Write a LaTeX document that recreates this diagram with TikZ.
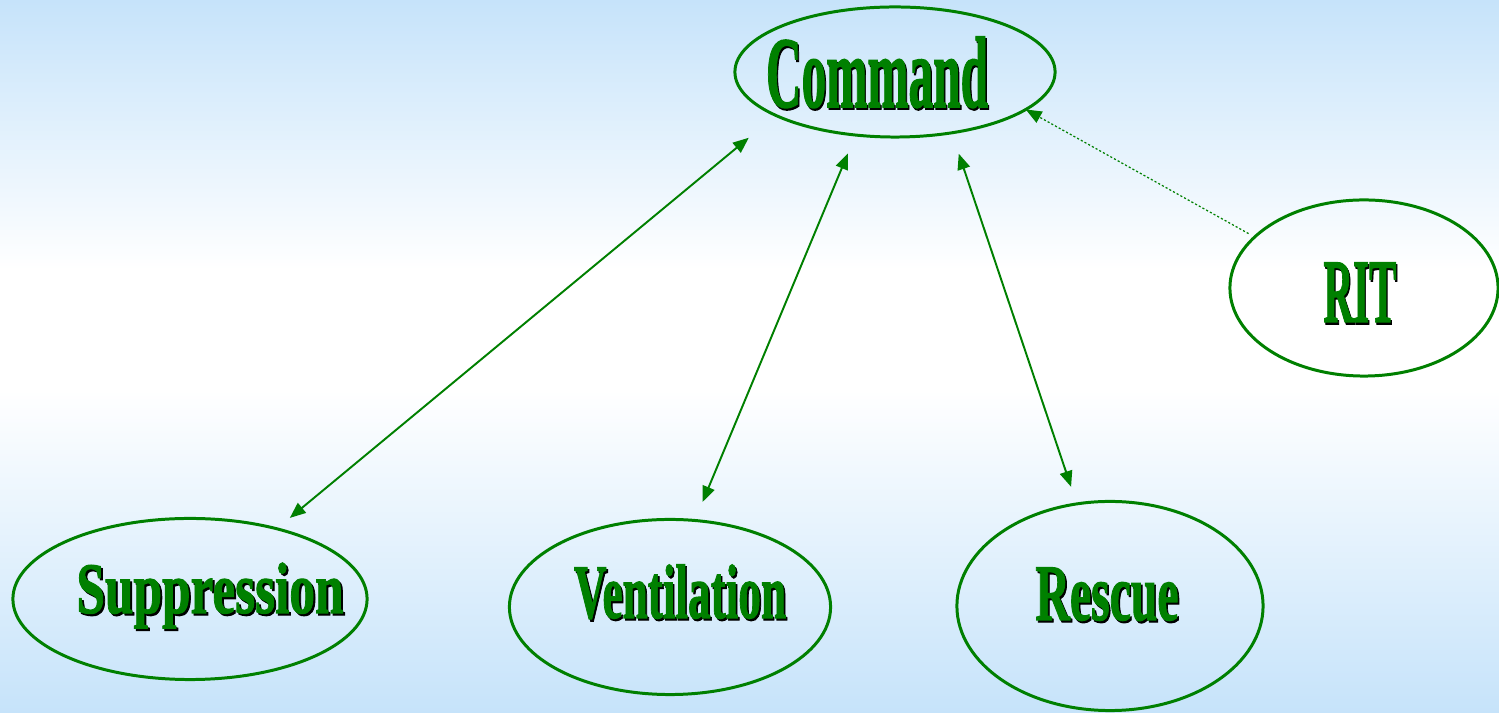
\documentclass[tikz,border=0pt]{standalone}
\usepackage{fontspec}
\usepackage{graphicx}
\usepackage{tikz}
\usepackage{xcolor}
\usetikzlibrary{arrows.meta}
\usetikzlibrary{shapes.geometric}

\newfontfamily\lblfont{Liberation Serif}[BoldFeatures={FakeBold=1.5}]
\definecolor{cmdgreen}{RGB}{0,128,0}
\definecolor{bgblue}{RGB}{198,227,250}

% shadowed, squeezed label text: size, width, text
\newcommand{\lbltext}[3]{\resizebox{#2}{\height}{\fontsize{#1}{#1}\selectfont\lblfont\bfseries\rlap{\kern0.8pt\raisebox{-0.6pt}{\color{black}#3}}{\color{cmdgreen}#3}}}

\begin{document}
\begin{tikzpicture}[x=0.01cm,y=-0.01cm,
    ellip/.style={ellipse, draw=cmdgreen, line width=0.85pt, inner sep=0pt, outer sep=0pt},
    lbl/.style={inner sep=0pt, anchor=base},
    link/.style={draw=cmdgreen, line width=0.55pt},
    >={Triangle[length=4.5pt,width=3.6pt]}]
      \useasboundingbox (0,0) rectangle (1499,713);
      % background, blue at top and bottom, white in between
      \shade[top color=bgblue, bottom color=white] (0,0) rectangle (1499,270);
      \fill[white] (0,269) rectangle (1499,391);
      \shade[top color=white, bottom color=bgblue] (0,390) rectangle (1499,713);

      %draw the ellipses
      \node[ellip, minimum width=3.2cm, minimum height=1.3cm] (cmd) at (895,72) {};
      \node[ellip, minimum width=2.68cm, minimum height=1.76cm] (rit) at (1364,288) {};
      \node[ellip, minimum width=3.54cm, minimum height=1.61cm] (sup) at (190,599) {};
      \node[ellip, minimum width=3.21cm, minimum height=1.75cm] (vent) at (670,607) {};
      \node[ellip, minimum width=3.06cm, minimum height=2.09cm] (resc) at (1110,606) {};

      %write the names
      \node[lbl] (cmdtxt) at (877,107) {\lbltext{28.8pt}{2.22cm}{Command}};
      \node[lbl] (rittxt) at (1360,322) {\lbltext{25.8pt}{0.73cm}{RIT}};
      \node[lbl] (suptxt) at (210,613) {\lbltext{20.6pt}{2.67cm}{Suppression}};
      \node[lbl] (venttxt) at (680,618) {\lbltext{21.9pt}{2.12cm}{Ventilation}};
      \node[lbl] (resctxt) at (1107,620) {\lbltext{22.8pt}{1.43cm}{Rescue}};

      % command talks both ways with the crews
      \draw[link, <->, shorten <=0.35cm, shorten >=0.17cm] (cmd.200.6) -- (sup.39.8);
      \draw[link, <->, shorten <=0.2cm, shorten >=0.2cm] (cmd.238.5) -- (vent.74);
      \draw[link, <->, shorten <=0.22cm, shorten >=0.18cm] (cmd.313.5) -- (resc.108);

      % RIT only reports up
      \draw[link, ->, line width=0.35pt, dash pattern=on 0.6pt off 0.6pt, shorten <=0.07cm] (rit.155) -- (cmd.344);
\end{tikzpicture}
\end{document}
